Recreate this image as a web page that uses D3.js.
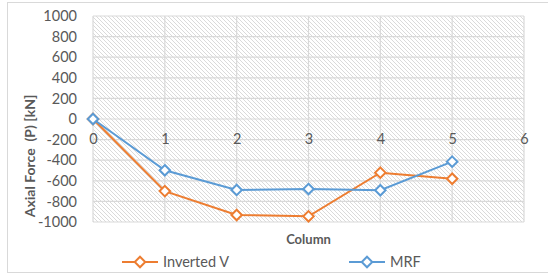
<!DOCTYPE html>
<html>
<head>
<meta charset="utf-8">
<script src="https://cdn.jsdelivr.net/npm/d3@7"></script>
<style>
  body { margin: 0; background: #fff; }
  svg { display: block; font-family: Lato, "Open Sans", sans-serif; }
</style>
</head>
<body>
<div id="chart"></div>
<script>
const columns = [0, 1, 2, 3, 4, 5]
const invertedV = [0, -700, -932, -945, -521, -580]
const mrf = [0, -498, -689, -680, -692, -414]
const xTicks = [0, 1, 2, 3, 4, 5, 6]
const yTicks = [1000, 800, 600, 400, 200, 0, -200, -400, -600, -800, -1000]
const seriesNames = ['Inverted V', 'MRF']

const width = 548
const height = 274
const margin = { top: 16, right: 24, bottom: 52, left: 93 }

const svg = d3.select('#chart')
    .append('svg')
    .attr('width', width)
    .attr('height', height)

// outer chart border
svg.append('rect')
    .attr('x', 7.5).attr('y', 2.5)
    .attr('width', width - 4).attr('height', 270)
    .attr('fill', '#fff')
    .attr('stroke', '#d9d9d9')

const pat = svg.append('defs').append('pattern')
    .attr('id', 'hatch')
    .attr('patternUnits', 'userSpaceOnUse')
    .attr('width', 4).attr('height', 4)
pat.append('path')
    .attr('d', 'M-1,-1 L5,5 M-1,3 L1,5 M3,-1 L5,1')
    .attr('stroke', '#d6d6d6')
    .attr('stroke-width', 0.9)

const x = d3.scaleLinear()
    .domain([0, 6])
    .range([margin.left, width - margin.right])

const y = d3.scaleLinear()
    .domain([-1000, 1000])
    .range([height - margin.bottom, margin.top])

svg.append('rect')
    .attr('x', x(0)).attr('y', y(1000))
    .attr('width', x(6) - x(0)).attr('height', y(-1000) - y(1000))
    .attr('fill', 'url(#hatch)')

// gridlines
svg.append('g')
    .selectAll('line')
    .data(yTicks)
    .join('line')
        .attr('x1', x(0)).attr('x2', x(6))
        .attr('y1', d => y(d)).attr('y2', d => y(d))
        .attr('stroke', '#d9d9d9').attr('stroke-width', 1.2)

svg.append('g')
    .selectAll('line')
    .data(xTicks)
    .join('line')
        .attr('x1', d => x(d)).attr('x2', d => x(d))
        .attr('y1', y(1000)).attr('y2', y(-1000))
        .attr('stroke', '#d9d9d9').attr('stroke-width', 1.2)

// axis labels
const yAxis = d3.axisLeft(y).tickValues(yTicks).tickSize(0).tickPadding(16)
    .tickFormat(d => String(d))
svg.append('g')
    .attr('transform', `translate(${x(0)},0)`)
    .call(yAxis)
    .call(g => g.select('.domain').remove())
    .selectAll('text')
        .attr('font-size', '14.5px')
        .attr('fill', '#595959')
        .attr('font-family', 'Lato, sans-serif')

const xAxis = d3.axisBottom(x).tickValues(xTicks).tickSize(0).tickPadding(15)
    .tickFormat(d => String(d))
svg.append('g')
    .attr('transform', `translate(0,${y(0)})`)
    .call(xAxis)
    .call(g => g.select('.domain').remove())
    .selectAll('text')
        .attr('font-size', '14.5px')
        .attr('fill', '#595959')
        .attr('font-family', 'Lato, sans-serif')

const colors = ['#ED7D31', '#5B9BD5']
const data = [invertedV, mrf]

const line = d3.line()
    .x((d, i) => x(columns[i]))
    .y(d => y(d))

const diamond = d3.symbol().type(d3.symbolDiamond2).size(70)

data.forEach((vals, k) => {
    svg.append('path')
        .datum(vals)
        .attr('d', line)
        .attr('fill', 'none')
        .attr('stroke', colors[k])
        .attr('stroke-width', 2)
    svg.append('g')
        .selectAll('path')
        .data(vals)
        .join('path')
            .attr('d', diamond)
            .attr('transform', (d, i) => `translate(${x(columns[i])},${y(d)})`)
            .attr('fill', '#fff')
            .attr('stroke', colors[k])
            .attr('stroke-width', 2)
})

// titles
svg.append('text')
    .attr('transform', 'translate(35,156) rotate(-90)')
    .attr('text-anchor', 'middle')
    .attr('font-size', '14px')
    .attr('font-weight', 700)
    .attr('fill', '#595959')
    .style('white-space', 'pre')
    .text('Axial Force  (P) [kN]')

svg.append('text')
    .attr('x', (x(0) + x(6)) / 2)
    .attr('y', 244)
    .attr('text-anchor', 'middle')
    .attr('font-size', '13px')
    .attr('font-weight', 700)
    .attr('fill', '#595959')
    .text('Column')

// legend
const legendX = [122, 349]
seriesNames.forEach((name, k) => {
    const g = svg.append('g').attr('transform', `translate(${legendX[k]},262)`)
    g.append('line').attr('x1', 0).attr('x2', 36)
        .attr('stroke', colors[k]).attr('stroke-width', 2)
    g.append('path').attr('d', diamond).attr('transform', 'translate(18,0)')
        .attr('fill', '#fff').attr('stroke', colors[k]).attr('stroke-width', 2)
    g.append('text').attr('x', 41).attr('y', 5)
        .attr('font-size', '14.5px').attr('fill', '#595959')
        .text(name)
})
</script>
</body>
</html>
